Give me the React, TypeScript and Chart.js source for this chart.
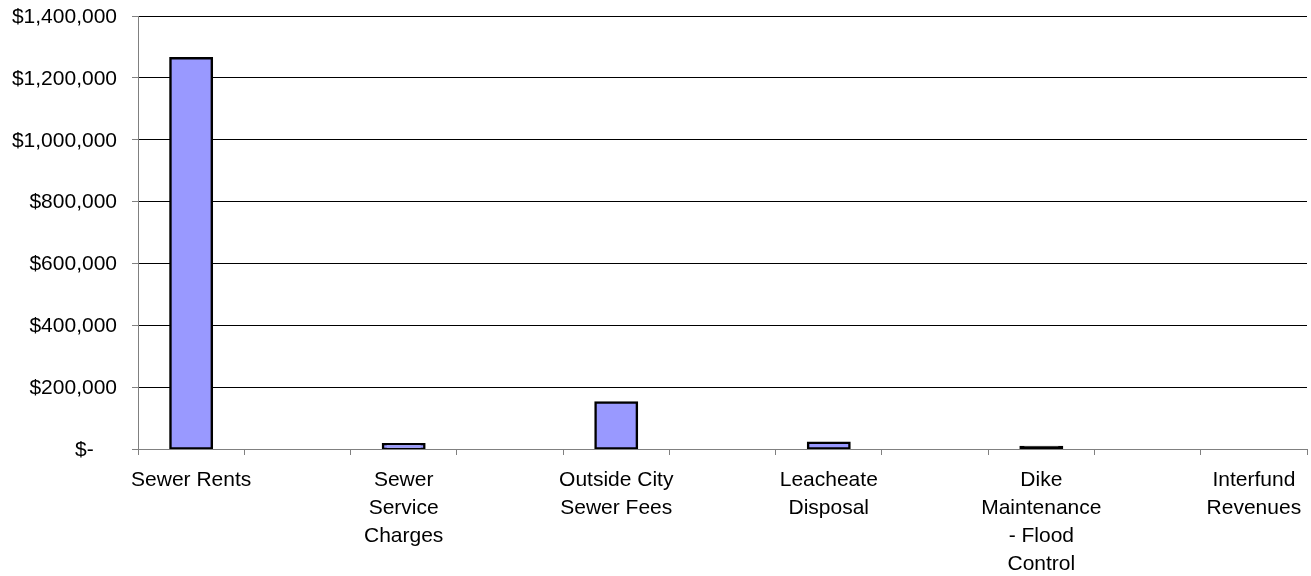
import React, { useEffect, useRef } from "react";
import { Chart, registerables } from "chart.js";

Chart.register(...registerables);

// Categories (odd slots are the blank spacer categories of the original chart)
const categories: string[][] = [
  ["Sewer Rents"],
  [""],
  ["Sewer", "Service", "Charges"],
  [""],
  ["Outside City", "Sewer Fees"],
  [""],
  ["Leacheate", "Disposal"],
  [""],
  ["Dike", "Maintenance", "- Flood", "Control"],
  [""],
  ["Interfund", "Revenues"],
];

const revenues: (number | null)[] = [
  1263000, null, 15000, null, 150000, null, 20000, null, 6500, null, 0,
];

const yMin = 0;
const yMax = 1400000;
const yStep = 200000;

const formatTick = (v: number): string =>
  v === 0 ? "$-\u00a0\u00a0\u00a0\u00a0" : "$" + v.toLocaleString("en-US");

const BORDER = 2.5;

export default function App() {
  const canvasRef = useRef<HTMLCanvasElement | null>(null);

  useEffect(() => {
    if (!canvasRef.current) return;
    const font = { family: "'Liberation Sans', Arial, sans-serif", size: 21, lineHeight: 1.33 };
    const chart = new Chart(canvasRef.current, {
      type: "bar",
      data: {
        labels: categories,
        datasets: [
          {
            data: revenues,
            backgroundColor: (ctx: any) => {
              const y = ctx.chart.scales && ctx.chart.scales.y;
              if (y && typeof ctx.raw === "number") {
                const h = y.getPixelForValue(0) - y.getPixelForValue(ctx.raw);
                // centered border overlaps the whole bar when it is thinner than the border
                if (h < BORDER) return "#000000";
              }
              return "#9999FF";
            },
            borderColor: "#000000",
            borderWidth: (ctx: any) => (ctx.raw ? BORDER : 0),
            inflateAmount: (ctx: any) => (ctx.raw ? BORDER / 2 : 0),
            borderSkipped: false,
            categoryPercentage: 1,
            barPercentage: 0.39,
          },
        ],
      },
      options: {
        animation: false,
        responsive: true,
        maintainAspectRatio: false,
        layout: { padding: { top: 16, right: 4, left: 0, bottom: 0 } },
        plugins: {
          legend: { display: false },
          tooltip: { enabled: false },
          title: { display: false },
        },
        scales: {
          x: {
            offset: true,
            grid: {
              offset: true,
              drawOnChartArea: false,
              drawTicks: true,
              tickLength: 6,
              tickColor: "#808080",
              color: "#808080",
            },
            border: { color: "#808080", width: 1 },
            ticks: {
              autoSkip: false,
              maxRotation: 0,
              minRotation: 0,
              padding: 11,
              color: "#000000",
              font,
            },
            afterFit: (scale: any) => {
              scale.height = 127;
              scale.paddingLeft = 0;
              scale.paddingRight = 0;
            },
          },
          y: {
            min: yMin,
            max: yMax,
            grid: {
              color: (ctx: any) => (ctx.tick && ctx.tick.value === 0 ? "#808080" : "#000000"),
              lineWidth: 1,
              drawTicks: true,
              tickLength: 6,
              tickColor: "#808080",
            },
            border: { color: "#808080", width: 1 },
            ticks: {
              stepSize: yStep,
              padding: 15,
              labelOffset: 1,
              color: "#000000",
              font,
              callback: (v: any) => formatTick(Number(v)),
            },
            afterFit: (scale: any) => {
              scale.width = 138;
              scale.paddingTop = 0;
              scale.paddingBottom = 0;
            },
          },
        },
      },
    });
    return () => chart.destroy();
  }, []);

  return (
    <div style={{ position: "absolute", left: 0, top: 0, width: 1311, height: 576 }}>
      <canvas ref={canvasRef} />
    </div>
  );
}
